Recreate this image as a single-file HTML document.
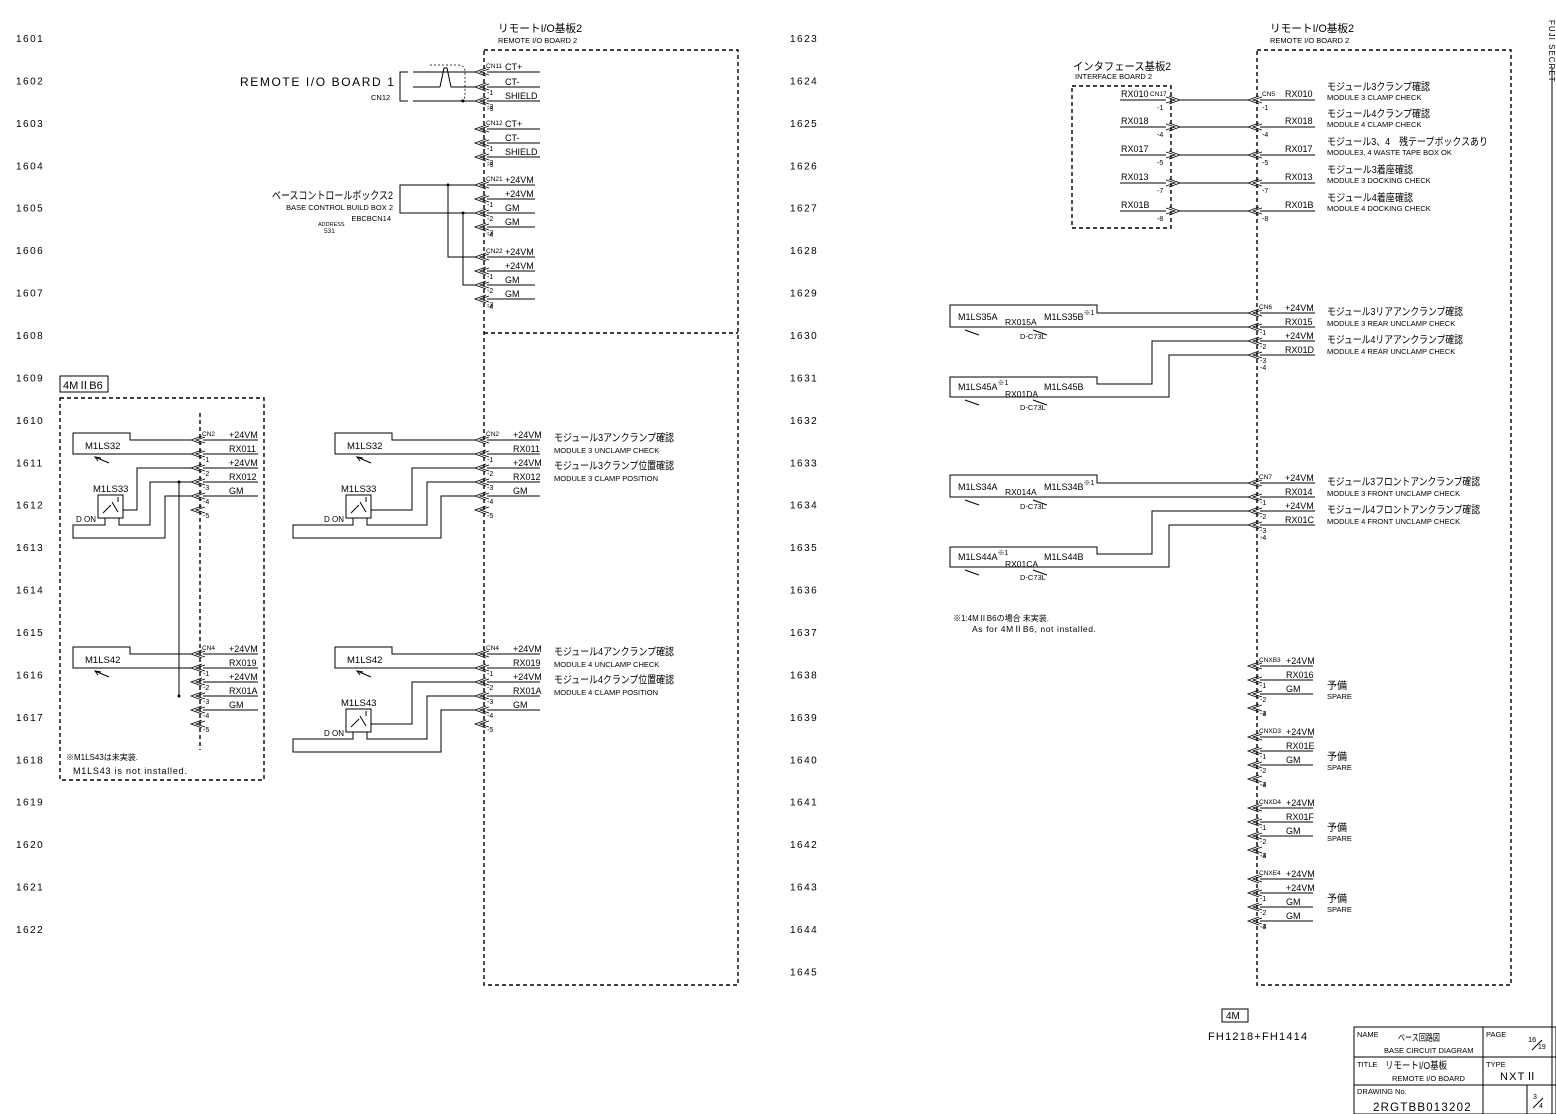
<!DOCTYPE html>
<html><head><meta charset="utf-8">
<style>
html,body{margin:0;padding:0;background:#fff;}
svg{display:block;}
text{font-family:"Liberation Sans","Noto Sans CJK JP",sans-serif;fill:#000;}
line,polyline,rect,path{stroke:#000;fill:none;stroke-width:1;}
.c{stroke-width:0.8;}
.d{stroke-dasharray:4,3;stroke-width:1.4;}
.dt{stroke-dasharray:2,2;stroke-width:0.8;}
</style></head><body>
<svg id="s" width="1556" height="1114" viewBox="0 0 1556 1114" xmlns="http://www.w3.org/2000/svg"></svg>
<script>
const S=[];
function L(a,b,c,d,k){S.push(`<line x1="${a}" y1="${b}" x2="${c}" y2="${d}"${k?` class="${k}"`:''}/>`);}
function P(p,k){S.push(`<polyline points="${p.join(' ')}"${k?` class="${k}"`:''}/>`);}
function R(x,y,w,h,k){S.push(`<rect x="${x}" y="${y}" width="${w}" height="${h}"${k?` class="${k}"`:''}/>`);}
function T(x,y,s,sz,o){o=o||'';S.push(`<text x="${x}" y="${y}" font-size="${sz||9}" ${o}>${s}</text>`);}
function J(x,y,s,sz,w,anc){T(x,y,s,sz,`textLength="${w}" lengthAdjust="spacingAndGlyphs"`+(anc?' text-anchor="end"':''));}
function D(x,y){S.push(`<circle cx="${x}" cy="${y}" r="1.5" fill="#000"/>`);}
function chL(ax,y){P([ax+11,y-4,ax,y,ax+11,y+4],'c');P([ax+14,y-3,ax+5,y,ax+14,y+3],'c');}
function chR(ax,y){P([ax-11,y-4,ax,y,ax-11,y+4],'c');P([ax-14,y-3,ax-5,y,ax-14,y+3],'c');}
function pins(bx,rows,labs,cn,ex,lo,extra){
  const ax=bx-9;
  rows.forEach((y,i)=>{chL(ax,y);
    if(labs[i]!==null){L(ax+12,y,ex,y);T(bx+lo,y-2,labs[i],9);}
    if(i==0)T(bx+2,y-4,cn,6.5);else T(bx+3,y+8,'-'+i,7);});
  if(extra){const y=rows[rows.length-1]+14;chL(ax,y);T(bx+3,y+8,'-'+rows.length,7);}
}
for(let i=0;i<22;i++)T(16,42+i*42.43,String(1601+i),10,'letter-spacing="1.5"');
for(let i=0;i<23;i++)T(790,42+i*42.43,String(1623+i),10,'letter-spacing="1.5"');
// left page
J(498,32,'リモートI/O基板2',11,84);T(498,43,'REMOTE I/O BOARD 2',7.5);
R(484,50,254,935,'d');L(484,333,738,333,'d');
pins(484,[72,87,101],['CT+','CT-','SHIELD'],'CN11',540,21,false);T(487,111,'-3',7);
pins(484,[129,143,157],['CT+','CT-','SHIELD'],'CN12',540,21,false);T(487,167,'-3',7);
pins(484,[185,199,213,227],['+24VM','+24VM','GM','GM'],'CN21',535,21,false);T(487,237,'-4',7);
pins(484,[257,271,285,299],['+24VM','+24VM','GM','GM'],'CN22',535,21,false);T(487,309,'-4',7);
T(240,86,'REMOTE I/O BOARD 1',12,'letter-spacing="1.6"');T(371,100,'CN12',7.5);
P([408,72,400,72,400,101,408,101]);
L(413,72,475,72);L(413,87,440,87);P([440,87,444,68,447,68,451,87,475,87]);L(413,101,475,101);
L(430,65,458,65,'dt');L(430,101,458,101,'dt');S.push('<path class="dt" d="M458 65 Q465 65 465 72 L465 95 Q465 101 458 101"/>');D(463,101);
J(393,199,'ベースコントロールボックス2',11,121,true);
T(393,210,'BASE CONTROL BUILD BOX 2',7.5,'text-anchor="end"');
T(391,221,'EBCBCN14',7.5,'text-anchor="end"');T(318,226,'ADDRESS',5.5);T(324,233,'531',6.5);
P([408,185,400,185,400,213,408,213]);
L(408,185,475,185);L(408,213,475,213);D(448,185);D(463,213);
P([448,185,448,257,475,257]);P([463,213,463,285,475,285]);
R(60,376,48,16);T(63,389,'4MⅡB6',11);
R(60,398,204,382,'d');L(200,413,200,750,'d');
const r1=[440,454,468,482,496],r2=[654,668,682,696,710];
pins(200,r1,['+24VM','RX011','+24VM','RX012','GM'],'CN2',258,29,true);
pins(200,r2,['+24VM','RX019','+24VM','RX01A','GM'],'CN4',258,29,true);
pins(484,r1,['+24VM','RX011','+24VM','RX012','GM'],'CN2',540,29,true);
pins(484,r2,['+24VM','RX019','+24VM','RX01A','GM'],'CN4',540,29,true);
function sw(ox,ax,y0,name){P([ax,y0+7,ox+57,y0+7,ox+57,y0,ox,y0,ox,y0+21,ax,y0+21]);T(ox+12,y0+16,name,9.5);
  L(ox+22,y0+24,ox+36,y0+30);P([ox+25,y0+28,ox+22,y0+24,ox+28,y0+25]);}
sw(73,191,433,'M1LS32');sw(73,191,647,'M1LS42');sw(335,475,433,'M1LS32');sw(335,475,647,'M1LS42');
function sw2(bx,v1,v2,v3,lx,ax,dy,name){
  R(bx,495+dy,25,23);L(bx+5,513+dy,bx+13,505+dy);L(bx+14,502+dy,bx+20,512+dy);L(bx+20,497+dy,bx+20,502+dy);
  T(bx-5,492+dy,name,9.5);T(bx-22,522+dy,'D ON',8);
  P([bx+25,510+dy,v1,510+dy,v1,468+dy,ax,468+dy]);
  P([bx+21,518+dy,bx+21,525+dy,v2,525+dy,v2,482+dy,ax,482+dy]);
  P([bx+7,518+dy,bx+7,525+dy,lx,525+dy,lx,538+dy,v3,538+dy,v3,496+dy,ax,496+dy]);}
sw2(98,137,150,165,73,191,0,'M1LS33');sw2(346,412,427,441,293,475,0,'M1LS33');sw2(346,412,427,441,293,475,214,'M1LS43');
L(179,482,179,697);D(179,482);D(179,696);
T(66,760,'※M1LS43は未実装.',8);T(73,774,'M1LS43 is not installed.',9,'letter-spacing="0.8"');
J(554,441,'モジュール3アンクランプ確認',10.5,120);T(554,453,'MODULE 3 UNCLAMP CHECK',7.5);
J(554,469,'モジュール3クランプ位置確認',10.5,120);T(554,481,'MODULE 3 CLAMP POSITION',7.5);
J(554,655,'モジュール4アンクランプ確認',10.5,120);T(554,667,'MODULE 4 UNCLAMP CHECK',7.5);
J(554,683,'モジュール4クランプ位置確認',10.5,120);T(554,695,'MODULE 4 CLAMP POSITION',7.5);
// right page
J(1270,32,'リモートI/O基板2',11,84);T(1270,43,'REMOTE I/O BOARD 2',7.5);
R(1257,50,254,935,'d');
R(1072,86,99,142,'d');J(1073,70,'インタフェース基板2',11,98);T(1075,79,'INTERFACE BOARD 2',7.5);
const c5=[100,127,155,183,211],c5l=['RX010','RX018','RX017','RX013','RX01B'],c5n=['-1','-4','-5','-7','-8'];
c5.forEach((y,i)=>{L(1120,y,1166,y);T(1121,y-3,c5l[i],9);chR(1180,y);L(1180,y,1248,y);chL(1248,y);
 L(1260,y,1315,y);T(1285,y-3,c5l[i],9);T(1157,y+10,c5n[i],7);T(1262,y+10,c5n[i],7);});
T(1150,96,'CN17',6.5);T(1262,96,'CN5',6.5);
const c5d=[['モジュール3クランプ確認','MODULE 3 CLAMP CHECK',103],['モジュール4クランプ確認','MODULE 4 CLAMP CHECK',103],['モジュール3、4　残テープボックスあり','MODULE3, 4 WASTE TAPE BOX OK',161],['モジュール3着座確認','MODULE 3 DOCKING CHECK',86],['モジュール4着座確認','MODULE 4 DOCKING CHECK',86]];
c5d.forEach((d,i)=>{J(1327,c5[i]-10,d[0],10.5,d[2]);T(1327,c5[i]+0,d[1],7.5);});
function sens(dy,cn,l,a,b,c,e,f,g,dA,dB){
  const rows=[313+dy,327+dy,341+dy,355+dy];
  pins(1257,rows,['+24VM',l[0],'+24VM',l[1]],cn,1315,28,false);T(1260,370+dy,'-4',7);
  P([1248,313+dy,1097,313+dy,1097,305+dy,950,305+dy,950,327+dy,1248,327+dy]);
  P([1248,341+dy,1152,341+dy,1152,384+dy,1097,384+dy,1097,377+dy,950,377+dy,950,397+dy,1169,397+dy,1169,355+dy,1248,355+dy]);
  T(958,320+dy,a,9);T(1005,325+dy,b,8.5);T(1044,320+dy,c+'<tspan font-size="7" dy="-5">※1</tspan>',9);T(1020,339+dy,'D-C73L',7.5);
  T(958,390+dy,e+'<tspan font-size="7" dy="-5">※1</tspan>',9);T(1005,397+dy,f,8.5);T(1044,390+dy,g,9);T(1020,410+dy,'D-C73L',7.5);
  [[965,330],[1033,330],[965,400],[1033,400]].forEach(p=>{L(p[0],p[1]+dy,p[0]+14,p[1]+5+dy);});
  J(1327,rows[0]+2,dA[0],10.5,dA[2]);T(1327,rows[0]+13,dA[1],7.5);J(1327,rows[2]+2,dB[0],10.5,dB[2]);T(1327,rows[2]+13,dB[1],7.5);
}
sens(0,'CN6',['RX015','RX01D'],'M1LS35A','RX015A','M1LS35B','M1LS45A','RX01DA','M1LS45B',['モジュール3リアアンクランプ確認','MODULE 3 REAR UNCLAMP CHECK',136],['モジュール4リアアンクランプ確認','MODULE 4 REAR UNCLAMP CHECK',136]);
sens(170,'CN7',['RX014','RX01C'],'M1LS34A','RX014A','M1LS34B','M1LS44A','RX01CA','M1LS44B',['モジュール3フロントアンクランプ確認','MODULE 3 FRONT UNCLAMP CHECK',153],['モジュール4フロントアンクランプ確認','MODULE 4 FRONT UNCLAMP CHECK',153]);
T(953,621,'※1:4MⅡB6の場合 未実装.',8);T(972,632,'As for 4MⅡB6, not installed.',8.5,'letter-spacing="0.6"');
function spare(y0,cn,labs){const rows=[y0,y0+14,y0+28,y0+42];
  pins(1257,rows,labs,cn,1313,29,false);T(1260,y0+50,'-4',7);T(1327,y0+23,'予備',10);T(1327,y0+33,'SPARE',7.5);}
spare(666,'CNXB3',['+24VM','RX016','GM',null]);
spare(737,'CNXD3',['+24VM','RX01E','GM',null]);
spare(808,'CNXD4',['+24VM','RX01F','GM',null]);
spare(879,'CNXE4',['+24VM','+24VM','GM','GM']);
// title block
R(1222,1009,26,13);T(1226,1019,'4M',10);T(1208,1040,'FH1218+FH1414',11,'letter-spacing="1.2"');
L(1552,68,1552,1114);S.push('<text x="0" y="0" font-size="8" transform="translate(1549,20) rotate(90)" letter-spacing="1">FUJI  SECRET</text>');
R(1354,1027,202,87);L(1483,1027,1483,1114);L(1354,1057,1556,1057);L(1354,1085,1556,1085);L(1527,1085,1527,1114);
T(1357,1037,'NAME',7.5);J(1398,1041,'ベース回路図',9.5,42);T(1384,1053,'BASE CIRCUIT DIAGRAM',7.5);
T(1486,1037,'PAGE',7.5);T(1528,1042,'16',7.5);L(1532,1050,1542,1040);T(1538,1049,'19',7);
T(1357,1067,'TITLE',7.5);J(1385,1069,'リモートI/O基板',10,62);T(1392,1081,'REMOTE I/O BOARD',7.5);
T(1486,1067,'TYPE',7.5);T(1500,1080,'NXTⅡ',11,'letter-spacing="1.2"');
T(1357,1094,'DRAWING No.',7.5);T(1373,1111,'2RGTBB013202',11.5,'letter-spacing="1.2"');
T(1533,1099,'3',7);L(1533,1108,1543,1098);T(1539,1108,'4',7);
document.getElementById('s').innerHTML=S.join('');
</script>
</body></html>
